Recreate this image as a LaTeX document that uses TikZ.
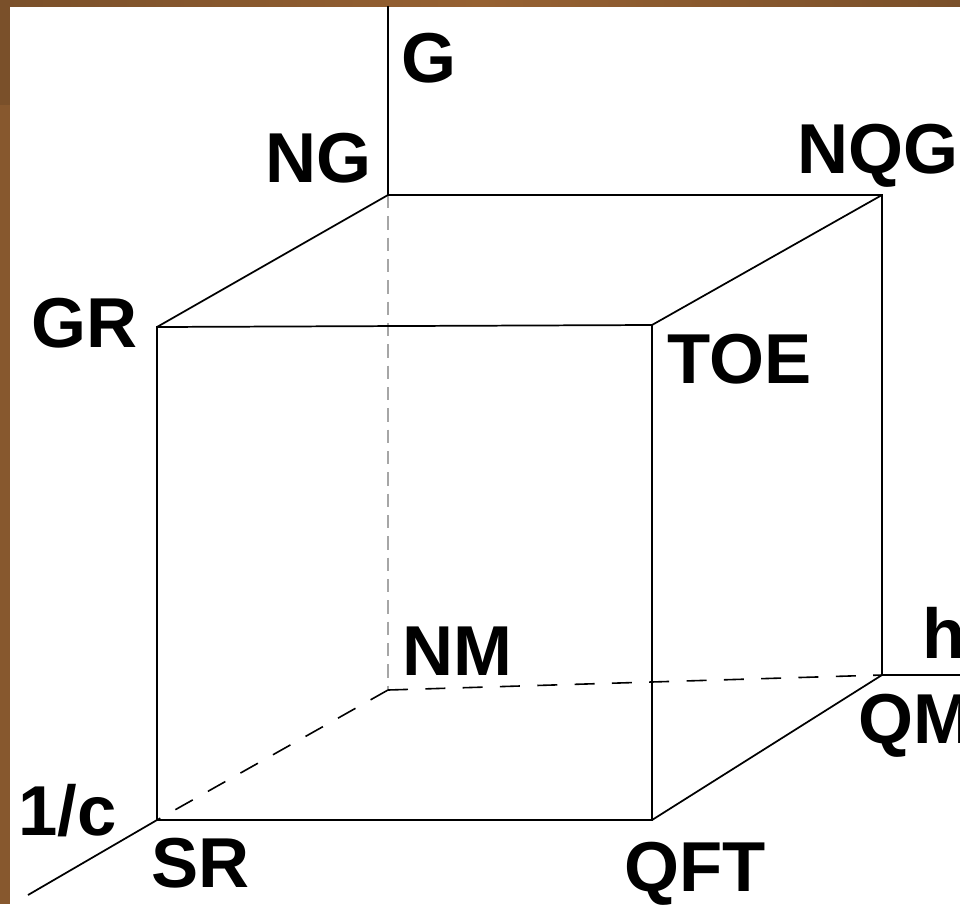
\documentclass[tikz,border=0pt]{standalone}
\usepackage{fontspec}
\setmainfont{Liberation Sans}
\definecolor{framedark}{RGB}{122,80,42}
\definecolor{framemid}{RGB}{150,97,50}
\definecolor{framelow}{RGB}{135,88,46}
\begin{document}
\begin{tikzpicture}[x=0.75pt,y=-0.75pt,
  edge/.style={line width=1.3pt,black},
  hidden/.style={line width=1.2pt,black,dash pattern=on 15pt off 13pt},
  hiddenv/.style={line width=1.3pt,black!35,dash pattern=on 10pt off 6pt},
  lbl/.style={anchor=base west,inner sep=0pt,font=\fontsize{53}{60}\selectfont\bfseries}]
% page and frame
\useasboundingbox (0,0) rectangle (960,904);
\fill[white] (0,0) rectangle (960,904);
\shade[left color=framedark,right color=framedark,middle color=framemid] (0,0) rectangle (960,6);
\fill[framedark] (0,0) rectangle (10,105);
\fill[framelow] (0,105) rectangle (10,904);
% cube corners
\coordinate (NGc) at (388,195);
\coordinate (NQGc) at (882,195);
\coordinate (GRc) at (157,327);
\coordinate (TOEc) at (652,325);
\coordinate (NMc) at (388,690);
\coordinate (QMc) at (882,675);
\coordinate (SRc) at (157,820);
\coordinate (QFTc) at (652,820);
% axis ends
\coordinate (Gtop) at (388,6);
\coordinate (hend) at (960,675);
\coordinate (cend) at (28,895);
% hidden edges
\draw[hiddenv] (NGc) -- (NMc);
\draw[hidden] (NMc) -- (QMc);
\draw[hidden] (NMc) -- (SRc);
% axes
\draw[edge] (Gtop) -- (NGc);
\draw[edge] (QMc) -- (hend);
\draw[edge] (SRc) -- (cend);
% visible edges
\draw[edge] (NGc) -- (NQGc) -- (QMc);
\draw[edge] (GRc) -- (NGc);
\draw[edge] (TOEc) -- (NQGc);
\draw[edge] (QFTc) -- (QMc);
\draw[edge] (GRc) -- (TOEc) -- (QFTc) -- (SRc) -- cycle;
% labels
\node[lbl] (G) at (401,82) {G};
\node[lbl] (NG) at (265,182) {NG};
\node[lbl] (NQG) at (797,173) {NQG};
\node[lbl] (GR) at (31,347) {GR};
\node[lbl] (TOE) at (667,383) {TOE};
\node[lbl] (NM) at (402,675) {NM};
\node[lbl] (h) at (922,658) {h};
\node[lbl] (QM) at (858,743) {QM};
\node[lbl] (c) at (18,835) {1/c};
\node[lbl] (SR) at (151,887) {SR};
\node[lbl] (QFT) at (624,891) {QFT};
\end{tikzpicture}
\end{document}
